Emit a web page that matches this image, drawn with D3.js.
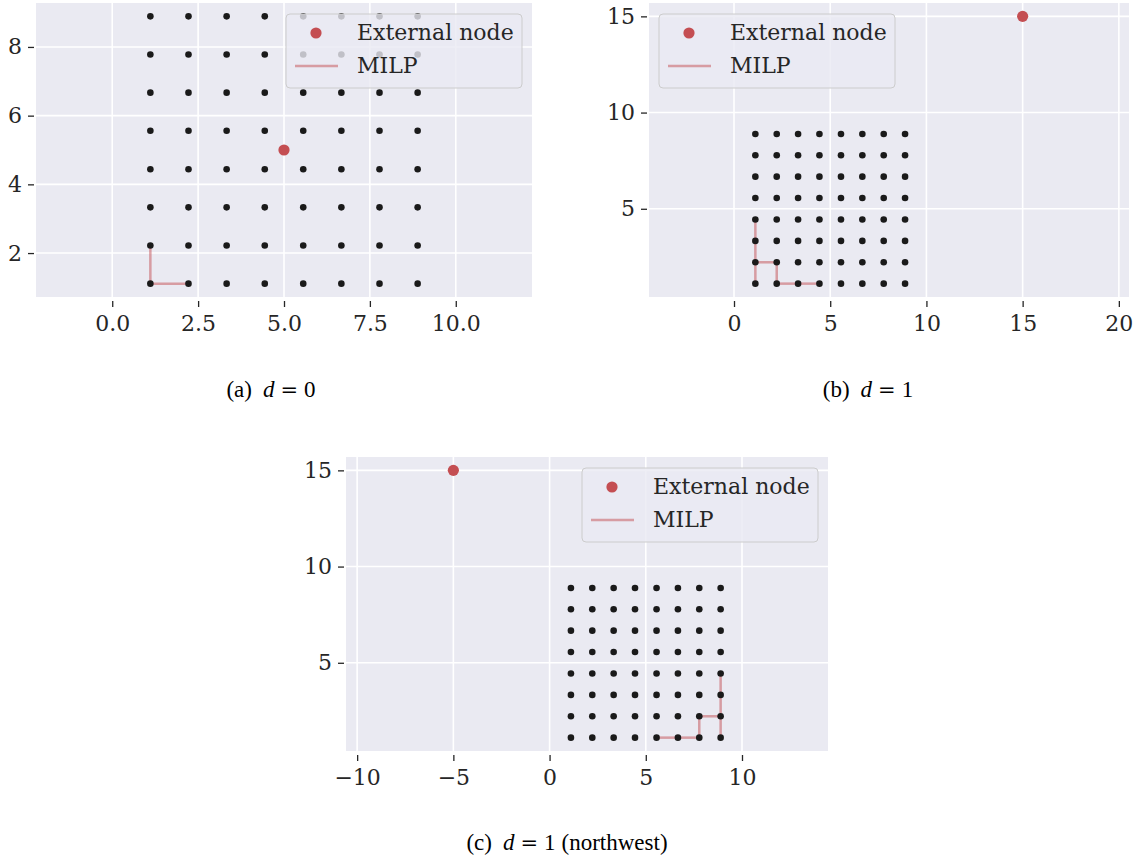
<!DOCTYPE html>
<html><head><meta charset="utf-8">
<script src="https://cdnjs.cloudflare.com/ajax/libs/d3/7.8.5/d3.min.js"></script>
<style>body{margin:0;background:#fff}</style>
</head><body>
<svg id="chart" width="1141" height="861"></svg>
<script>
// ---- data ----
const gridX = [1.11, 2.22, 3.33, 4.44, 5.56, 6.67, 7.78, 8.89];
const gridY = [1.11, 2.22, 3.33, 4.44, 5.56, 6.67, 7.78, 8.89];

const externalA = [5, 5];
const externalB = [15, 15];
const externalC = [-5, 15];

const milpA = [[[1.11, 2.22], [1.11, 1.11]], [[1.11, 1.11], [2.22, 1.11]]];
const milpB = [
  [[1.11, 4.44], [1.11, 3.33]], [[1.11, 3.33], [1.11, 2.22]], [[1.11, 2.22], [1.11, 1.11]],
  [[1.11, 2.22], [2.22, 2.22]], [[2.22, 2.22], [2.22, 1.11]],
  [[2.22, 1.11], [3.33, 1.11]], [[3.33, 1.11], [4.44, 1.11]]
];
const milpC = [
  [[8.89, 4.44], [8.89, 3.33]], [[8.89, 3.33], [8.89, 2.22]], [[8.89, 2.22], [8.89, 1.11]],
  [[8.89, 2.22], [7.78, 2.22]], [[7.78, 2.22], [7.78, 1.11]],
  [[7.78, 1.11], [6.67, 1.11]], [[6.67, 1.11], [5.56, 1.11]]
];

const xTicksA = [0, 2.5, 5, 7.5, 10];
const xTickLabelsA = ["0.0", "2.5", "5.0", "7.5", "10.0"];
const yTicksA = [2, 4, 6, 8];
const yTickLabelsA = ["2", "4", "6", "8"];

const xTicksB = [0, 5, 10, 15, 20];
const xTickLabelsB = ["0", "5", "10", "15", "20"];
const yTicksB = [5, 10, 15];
const yTickLabelsB = ["5", "10", "15"];

const xTicksC = [-10, -5, 0, 5, 10];
const xTickLabelsC = ["\u221210", "\u22125", "0", "5", "10"];
const yTicksC = [5, 10, 15];
const yTickLabelsC = ["5", "10", "15"];

const legendLabels = ["External node", "MILP"];
const captionA = ["(a)", "d", "=", "0", ""];
const captionB = ["(b)", "d", "=", "1", ""];
const captionC = ["(c)", "d", "=", "1", "(northwest)"];

// ---- layout / style ----
const BG = "#EAEAF2", RED = "#C44E52", TXT = "#262626";
const svg = d3.select("#chart");

const panels = [
  {box: {l: 36, r: 532, t: 3, b: 297}, ext: externalA, milp: milpA,
   xt: xTicksA, xl: xTickLabelsA, yt: yTicksA, yl: yTickLabelsA, legend: "right",
   cap: captionA, capX: 271, capY: 397},
  {box: {l: 649, r: 1129, t: 3, b: 297}, ext: externalB, milp: milpB,
   xt: xTicksB, xl: xTickLabelsB, yt: yTicksB, yl: yTickLabelsB, legend: "left",
   cap: captionB, capX: 868, capY: 397},
  {box: {l: 346, r: 828, t: 457, b: 751}, ext: externalC, milp: milpC,
   xt: xTicksC, xl: xTickLabelsC, yt: yTicksC, yl: yTickLabelsC, legend: "right",
   cap: captionC, capX: 567, capY: 850}
];

panels.forEach(p => {
  const b = p.box, W = b.r - b.l, H = b.b - b.t;
  const allX = gridX.concat([p.ext[0]]), allY = gridY.concat([p.ext[1]]);
  const y0 = d3.min(allY), y1 = d3.max(allY), yr = y1 - y0;
  const yDom = [y0 - 0.05 * yr, y1 + 0.05 * yr];
  const unitsPerPx = (yDom[1] - yDom[0]) / H;
  const xc = (d3.min(allX) + d3.max(allX)) / 2;
  const xDom = [xc - W * unitsPerPx / 2, xc + W * unitsPerPx / 2];
  const x = d3.scaleLinear().domain(xDom).range([b.l, b.r]);
  const y = d3.scaleLinear().domain(yDom).range([b.b, b.t]);

  const g = svg.append("g");
  g.append("rect").attr("x", b.l).attr("y", b.t).attr("width", W).attr("height", H).attr("fill", BG);

  // grid
  g.selectAll(".gx").data(p.xt).enter().append("line")
    .attr("x1", d => x(d)).attr("x2", d => x(d)).attr("y1", b.t).attr("y2", b.b)
    .attr("stroke", "#fff").attr("stroke-width", 1.6);
  g.selectAll(".gy").data(p.yt).enter().append("line")
    .attr("x1", b.l).attr("x2", b.r).attr("y1", d => y(d)).attr("y2", d => y(d))
    .attr("stroke", "#fff").attr("stroke-width", 1.6);

  // x axis
  const xAxis = d3.axisBottom(x).tickValues(p.xt).tickSize(6).tickPadding(8)
    .tickFormat((d, i) => p.xl[i]);
  const xg = g.append("g").attr("transform", `translate(0,${b.b + 4})`).call(xAxis);
  xg.select(".domain").remove();
  xg.selectAll(".tick line").attr("stroke", TXT).attr("stroke-width", 1.3);
  xg.selectAll(".tick text").attr("fill", TXT).attr("font-family", "DejaVu Serif").attr("font-size", 22);

  const yAxis = d3.axisLeft(y).tickValues(p.yt).tickSize(6).tickPadding(6)
    .tickFormat((d, i) => p.yl[i]);
  const yg = g.append("g").attr("transform", `translate(${b.l - 2},0)`).call(yAxis);
  yg.select(".domain").remove();
  yg.selectAll(".tick line").attr("stroke", TXT).attr("stroke-width", 1.3);
  yg.selectAll(".tick text").attr("fill", TXT).attr("font-family", "DejaVu Serif").attr("font-size", 22);

  // MILP edges
  g.selectAll(".milp").data(p.milp).enter().append("line")
    .attr("x1", d => x(d[0][0])).attr("y1", d => y(d[0][1]))
    .attr("x2", d => x(d[1][0])).attr("y2", d => y(d[1][1]))
    .attr("stroke", RED).attr("stroke-opacity", 0.5).attr("stroke-width", 2.5);

  // grid nodes
  const pts = [];
  gridX.forEach(gx => gridY.forEach(gy => pts.push([gx, gy])));
  g.selectAll(".pt").data(pts).enter().append("circle")
    .attr("cx", d => x(d[0])).attr("cy", d => y(d[1])).attr("r", 3.3).attr("fill", "#1a1a1a");

  g.append("circle").attr("cx", x(p.ext[0])).attr("cy", y(p.ext[1])).attr("r", 5.6).attr("fill", RED);

  // legend
  const LW = 236, LH = 74;
  const lx = p.legend === "right" ? b.r - 10 - LW : b.l + 10;
  const ly = b.t + 11;
  const lg = g.append("g").attr("transform", `translate(${lx},${ly})`);
  lg.append("rect").attr("width", LW).attr("height", LH).attr("rx", 4)
    .attr("fill", BG).attr("fill-opacity", 0.8).attr("stroke", "#cccccc").attr("stroke-width", 1);
  lg.append("circle").attr("cx", 30).attr("cy", 19).attr("r", 5.6).attr("fill", RED);
  lg.append("line").attr("x1", 9).attr("x2", 52).attr("y1", 52).attr("y2", 52)
    .attr("stroke", RED).attr("stroke-opacity", 0.5).attr("stroke-width", 2.5);
  lg.selectAll(".lt").data(legendLabels).enter().append("text")
    .attr("x", 71).attr("y", (d, i) => 19 + i * 33).attr("dy", "0.33em")
    .attr("fill", TXT).attr("font-family", "DejaVu Serif").attr("font-size", 22).text(d => d);

  // caption
  const ct = svg.append("text").attr("x", p.capX).attr("y", p.capY).attr("text-anchor", "middle")
    .attr("font-family", "Liberation Serif").attr("font-size", 23).attr("fill", "#000");
  ct.append("tspan").text(p.cap[0]);
  ct.append("tspan").attr("dx", 11).attr("font-style", "italic").text(p.cap[1]);
  ct.append("tspan").attr("dx", 6).attr("font-family", "DejaVu Serif").attr("font-size", 21).text(p.cap[2]);
  ct.append("tspan").attr("dx", 6).text(p.cap[3]);
  if (p.cap[4]) ct.append("tspan").attr("dx", 6).text(p.cap[4]);
});
</script>
</body></html>
